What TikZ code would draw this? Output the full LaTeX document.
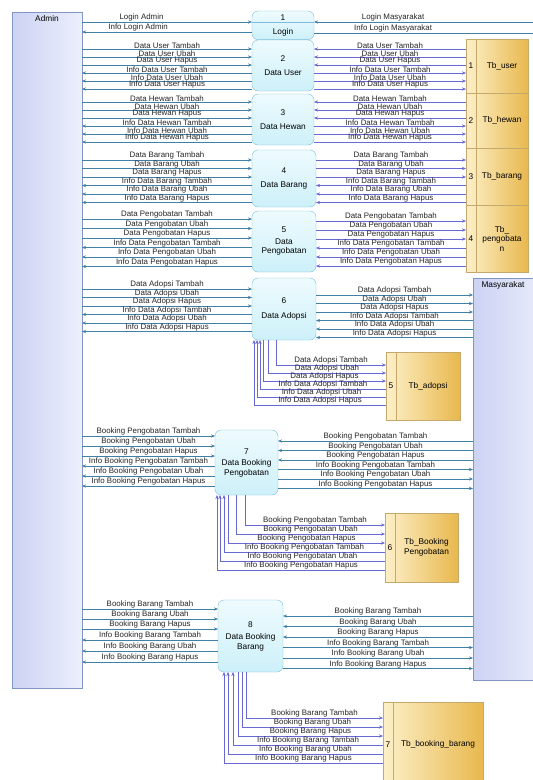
\documentclass[tikz,border=0pt]{standalone}
\usepackage{fontspec}
\setmainfont{Liberation Sans}
\usetikzlibrary{arrows.meta}

\definecolor{entfill}{RGB}{204,211,243}
\definecolor{entfillb}{RGB}{236,239,252}
\definecolor{entdraw}{RGB}{130,150,195}
\definecolor{procfill}{RGB}{205,240,249}
\definecolor{procfillb}{RGB}{238,251,254}
\definecolor{procdraw}{RGB}{125,190,222}
\definecolor{storefill}{RGB}{253,240,200}
\definecolor{storefillb}{RGB}{232,184,78}
\definecolor{storedraw}{RGB}{196,168,108}
\definecolor{admline}{RGB}{64,128,166}
\definecolor{stoline}{RGB}{104,104,214}

\begin{document}
\begin{tikzpicture}[x=1pt, y=-1pt, >={Stealth[length=4pt,width=3.2pt]},
    ent/.style={draw=entdraw, left color=entfill, right color=entfillb, outer sep=0pt, anchor=north west},
    proc/.style={draw=procdraw, top color=procfillb, bottom color=procfill, rounded corners=6pt, outer sep=0pt,
        anchor=north west, align=center, font=\fontsize{8.3}{9.5}\selectfont},
    store/.style={draw=storedraw, left color=storefill, right color=storefillb, outer sep=0pt, anchor=north west},
    txt/.style={font=\fontsize{8.3}{9.5}\selectfont, align=center, inner sep=0pt},
    lbl/.style={font=\fontsize{7.9}{8.5}\selectfont, text=black!85, inner sep=0.2pt, anchor=south},
    adm/.style={draw=admline, line width=0.5pt},
    sto/.style={draw=stoline, line width=0.5pt},
    fw/.style={->}, bw/.style={<-}]

    \fill[white] (0,0) rectangle (533,780);
    \useasboundingbox (0,0) rectangle (533,780);

    % External entities
    \node[ent, minimum width=70pt, minimum height=676pt] (admin) at (12,12) {};
    \node[txt, anchor=north] (adminlbl) at ([yshift=-3pt]admin.north) {Admin};
    \node[ent, minimum width=80pt, minimum height=402pt] (masy) at (473,278) {};
    \node[txt] (masylbl) at (503,285) {Masyarakat};

    % Processes
    \node[proc, minimum width=62pt, minimum height=25pt] (p1) at (252,11) {1\\[5pt]Login};
    \draw[procdraw] (p1.west |- 0,22) -- (p1.east |- 0,22);
    \node[proc, minimum width=62pt, minimum height=51pt] (p2) at (252,40) {2\\[5pt]Data User};
    \node[proc, minimum width=62pt, minimum height=51pt] (p3) at (252,94) {3\\[5pt]Data Hewan};
    \node[proc, minimum width=64pt, minimum height=57pt] (p4) at (252,150) {4\\[5pt]Data Barang};
    \node[proc, minimum width=64pt, minimum height=61pt] (p5) at (252,211) {5\\[2pt]Data\\Pengobatan};
    \node[proc, minimum width=64pt, minimum height=62pt] (p6) at (252,278) {6\\[6pt]Data Adopsi};
    \node[proc, minimum width=63pt, minimum height=65pt] (p7) at (215,430) {7\\[2pt]Data Booking\\Pengobatan};
    \node[proc, minimum width=65pt, minimum height=72pt] (p8) at (218,600) {8\\[3pt]Data Booking\\Barang};

    % Data stores
    \node[store, minimum width=62pt, minimum height=54pt] (s1) at (466,39) {};
    \node[store, minimum width=62pt, minimum height=55pt] (s2) at (466,93) {};
    \node[store, minimum width=62pt, minimum height=57pt] (s3) at (466,148) {};
    \node[store, minimum width=62pt, minimum height=67pt] (s4) at (466,205) {};
    \node[store, minimum width=74pt, minimum height=68pt] (s5) at (386,352) {};
    \node[store, minimum width=73pt, minimum height=69pt] (s6) at (385,513) {};
    \node[store, minimum width=100pt, minimum height=85pt] (s7) at (383,702) {};
    \foreach \s/\n in {s1/1, s2/2, s3/3, s4/4, s5/5, s6/6, s7/7} {
        \draw[storedraw] ([xshift=10pt]\s.north west) -- ([xshift=10pt]\s.south west);
        \node[txt] (n\s) at ([xshift=5pt]\s.west) {\n};
    }
    \node[txt] (t1) at ([xshift=5pt]s1.center) {Tb\_user};
    \node[txt] (t2) at ([xshift=5pt]s2.center) {Tb\_hewan};
    \node[txt] (t3) at ([xshift=5pt]s3.center) {Tb\_barang};
    \node[txt] (t4) at ([xshift=5pt]s4.center) {Tb\_\\pengobata\\n};
    \node[txt] (t5) at ([xshift=5pt]s5.center) {Tb\_adopsi};
    \node[txt] (t6) at ([xshift=5pt]s6.center) {Tb\_Booking\\Pengobatan};
    \node[txt] (t7) at ([xshift=5pt]s7.center) {Tb\_booking\_barang};

    % Login
    \coordinate (mlogin) at (540,22);
    \coordinate (minfo) at (540,33);
    \draw[adm,fw] (admin.east |- 0,22) -- (p1.west |- 0,22) node[lbl,pos=0.35] {Login Admin};
    \draw[adm,bw] (admin.east |- 0,32) -- (p1.west |- 0,32) node[lbl,pos=0.33] {Info Login Admin};
    \draw[adm,bw] (p1.east |- 0,22) -- (mlogin) node[lbl,pos=0.35] {Login Masyarakat};
    \draw[adm,fw] (p1.east |- 0,33) -- (minfo) node[lbl,pos=0.35] {Info Login Masyarakat};

    % Data User
    \foreach \y/\t/\d in {49/Data User Tambah/fw, 57/Data User Ubah/fw, 65/Data User Hapus/fw,
        73/Info Data User Tambah/bw, 81/Info Data User Ubah/bw, 89/Info Data User Hapus/bw}
        \draw[adm,\d] (admin.east |- 0,\y) -- (p2.west |- 0,\y) node[lbl,midway] {\t};
    \foreach \y/\t/\d in {49/Data User Tambah/bw, 57/Data User Ubah/bw, 65/Data User Hapus/bw,
        73/Info Data User Tambah/fw, 81/Info Data User Ubah/fw, 89/Info Data User Hapus/fw}
        \draw[sto,\d] (p2.east |- 0,\y) -- (s1.west |- 0,\y) node[lbl,midway] {\t};

    % Data Hewan
    \foreach \y/\t/\d in {102/Data Hewan Tambah/fw, 110/Data Hewan Ubah/fw, 118/Data Hewan Hapus/fw,
        126/Info Data Hewan Tambah/bw, 134/Info Data Hewan Ubah/bw, 142/Info Data Hewan Hapus/bw}
        \draw[adm,\d] (admin.east |- 0,\y) -- (p3.west |- 0,\y) node[lbl,midway] {\t};
    \foreach \y/\t/\d in {102/Data Hewan Tambah/bw, 110/Data Hewan Ubah/bw, 118/Data Hewan Hapus/bw,
        126/Info Data Hewan Tambah/fw, 134/Info Data Hewan Ubah/fw, 142/Info Data Hewan Hapus/fw}
        \draw[sto,\d] (p3.east |- 0,\y) -- (s2.west |- 0,\y) node[lbl,midway] {\t};

    % Data Barang
    \foreach \y/\t/\d in {160/Data Barang Tambah/fw, 168.5/Data Barang Ubah/fw, 177/Data Barang Hapus/fw,
        185.5/Info Data Barang Tambah/bw, 194/Info Data Barang Ubah/bw, 202.5/Info Data Barang Hapus/bw}
        \draw[adm,\d] (admin.east |- 0,\y) -- (p4.west |- 0,\y) node[lbl,midway] {\t};
    \foreach \y/\t/\d in {160/Data Barang Tambah/fw, 168.5/Data Barang Ubah/fw, 177/Data Barang Hapus/fw,
        185.5/Info Data Barang Tambah/bw, 194/Info Data Barang Ubah/bw, 202.5/Info Data Barang Hapus/bw}
        \draw[sto,\d] (p4.east |- 0,\y) -- (s3.west |- 0,\y) node[lbl,midway] {\t};

    % Data Pengobatan
    \foreach \y/\t/\d in {219/Data Pengobatan Tambah/fw, 228.5/Data Pengobatan Ubah/fw, 238/Data Pengobatan Hapus/fw,
        247.5/Info Data Pengobatan Tambah/bw, 257/Info Data Pengobatan Ubah/bw, 266.5/Info Data Pengobatan Hapus/bw}
        \draw[adm,\d] (admin.east |- 0,\y) -- (p5.west |- 0,\y) node[lbl,midway] {\t};
    \foreach \y/\t/\d in {221/Data Pengobatan Tambah/fw, 230/Data Pengobatan Ubah/fw, 239/Data Pengobatan Hapus/fw,
        248/Info Data Pengobatan Tambah/bw, 257/Info Data Pengobatan Ubah/bw, 266/Info Data Pengobatan Hapus/bw}
        \draw[sto,\d] (p5.east |- 0,\y) -- (s4.west |- 0,\y) node[lbl,midway] {\t};

    % Data Adopsi
    \foreach \y/\t/\d in {289/Data Adopsi Tambah/fw, 297.5/Data Adopsi Ubah/fw, 306/Data Adopsi Hapus/fw,
        314.5/Info Data Adopsi Tambah/bw, 323/Info Data Adopsi Ubah/bw, 331.5/Info Data Adopsi Hapus/bw}
        \draw[adm,\d] (admin.east |- 0,\y) -- (p6.west |- 0,\y) node[lbl,midway] {\t};
    \foreach \y/\t/\d in {295/Data Adopsi Tambah/fw, 303.5/Data Adopsi Ubah/fw, 312/Data Adopsi Hapus/fw,
        320.5/Info Data Adopsi Tambah/bw, 329/Info Data Adopsi Ubah/bw, 337.5/Info Data Adopsi Hapus/bw}
        \draw[adm,\d] (p6.east |- 0,\y) -- (masy.west |- 0,\y) node[lbl,midway] {\t};
    \foreach \x/\y/\t/\d in {276/365/Data Adopsi Tambah/fw, 268/373/Data Adopsi Ubah/fw, 263/381/Data Adopsi Hapus/fw,
        260/389/Info Data Adopsi Tambah/bw, 257/397/Info Data Adopsi Ubah/bw, 254/405/Info Data Adopsi Hapus/bw}
        \draw[sto,\d] (p6.south -| \x,0) |- (s5.west |- 0,\y) node[lbl,pos=0.75] {\t};

    % Data Booking Pengobatan
    \foreach \y/\t/\d in {436/Booking Pengobatan Tambah/fw, 446/Booking Pengobatan Ubah/fw, 456/Booking Pengobatan Hapus/fw,
        466/Info Booking Pengobatan Tambah/bw, 476/Info Booking Pengobatan Ubah/bw, 486/Info Booking Pengobatan Hapus/bw}
        \draw[adm,\d] (admin.east |- 0,\y) -- (p7.west |- 0,\y) node[lbl,midway] {\t};
    \foreach \y/\t/\d in {441/Booking Pengobatan Tambah/bw, 450.5/Booking Pengobatan Ubah/bw, 460/Booking Pengobatan Hapus/bw,
        469.5/Info Booking Pengobatan Tambah/fw, 479/Info Booking Pengobatan Ubah/fw, 488.5/Info Booking Pengobatan Hapus/fw}
        \draw[adm,\d] (p7.east |- 0,\y) -- (masy.west |- 0,\y) node[lbl,midway] {\t};
    \foreach \x/\y/\t/\d in {245/525/Booking Pengobatan Tambah/fw, 236/534/Booking Pengobatan Ubah/fw, 228/543/Booking Pengobatan Hapus/fw,
        224/552/Info Booking Pengobatan Tambah/bw, 220/561/Info Booking Pengobatan Ubah/bw, 217/570/Info Booking Pengobatan Hapus/bw}
        \draw[sto,\d] (p7.south -| \x,0) |- (s6.west |- 0,\y) node[lbl,pos=0.75] {\t};

    % Data Booking Barang
    \foreach \y/\t/\d in {609/Booking Barang Tambah/fw, 619/Booking Barang Ubah/fw, 629/Booking Barang Hapus/fw,
        640/Info Booking Barang Tambah/bw, 651/Info Booking Barang Ubah/bw, 662/Info Booking Barang Hapus/bw}
        \draw[adm,\d] (admin.east |- 0,\y) -- (p8.west |- 0,\y) node[lbl,midway] {\t};
    \foreach \y/\t/\d in {616/Booking Barang Tambah/bw, 626.5/Booking Barang Ubah/bw, 637/Booking Barang Hapus/bw,
        647.5/Info Booking Barang Tambah/fw, 658/Info Booking Barang Ubah/fw, 668.5/Info Booking Barang Hapus/fw}
        \draw[adm,\d] (p8.east |- 0,\y) -- (masy.west |- 0,\y) node[lbl,midway] {\t};
    \foreach \x/\y/\t/\d in {246/718/Booking Barang Tambah/fw, 242/727/Booking Barang Ubah/fw, 238/736/Booking Barang Hapus/fw,
        233/745/Info Booking Barang Tambah/bw, 228/754/Info Booking Barang Ubah/bw, 224/763/Info Booking Barang Hapus/bw}
        \draw[sto,\d] (p8.south -| \x,0) |- (s7.west |- 0,\y) node[lbl,pos=0.75] {\t};
\end{tikzpicture}
\end{document}
